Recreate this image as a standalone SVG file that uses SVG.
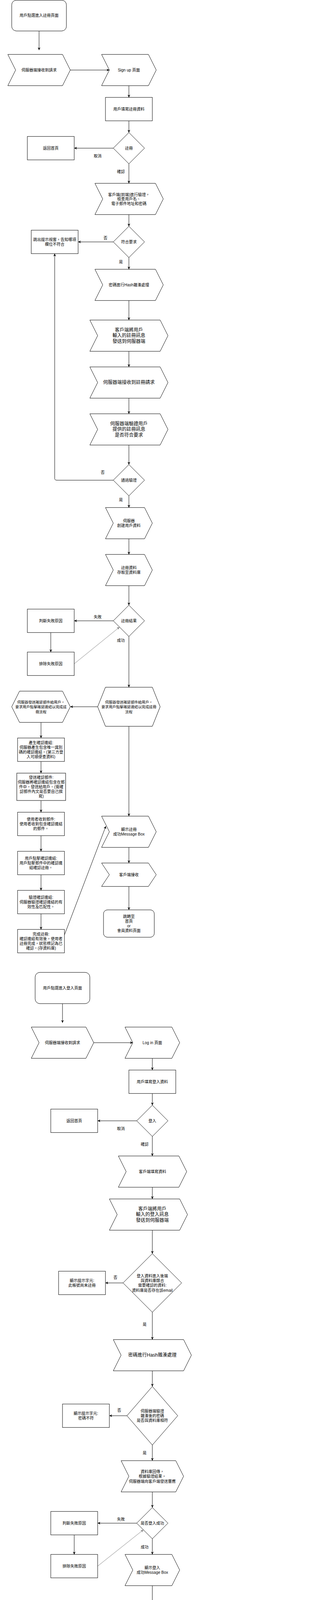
<svg xmlns="http://www.w3.org/2000/svg" width="850" height="4400" viewBox="0 0 850 4400">
<style>
.n{fill:#fff;stroke:#000;stroke-width:1}
.n2{fill:#fff;stroke:#555;stroke-width:1.6}
.t{font-family:"Liberation Sans","Noto Sans CJK TC",sans-serif;font-size:10px;fill:#000;text-anchor:middle;dominant-baseline:central}
.b{font-size:12px}
.s{font-size:9.4px}
.e{fill:none;stroke:#000;stroke-width:1;marker-end:url(#ah)}
.g{fill:none;stroke:#808080;stroke-width:1;marker-end:url(#ahg)}
</style>
<defs>
<marker id="ah" markerUnits="userSpaceOnUse" viewBox="0 0 10 10" refX="10" refY="5" markerWidth="7" markerHeight="7" orient="auto"><path d="M0,0 L10,5 L0,10 L3,5 z" fill="#000"/></marker>
<marker id="ahg" markerUnits="userSpaceOnUse" viewBox="0 0 10 10" refX="10" refY="5" markerWidth="7" markerHeight="7" orient="auto"><path d="M0,0 L10,5 L0,10 L3,5 z" fill="#808080"/></marker>
</defs>
<rect width="850" height="4400" fill="#fff"/>
<g id="connectors">
<path class="e" d="M100,79.3 V128.3"/>
<path class="e" d="M180,179.3 H280"/>
<path class="e" d="M330,219.3 V249.3"/>
<path class="e" d="M330,309.3 V339.3"/>
<path class="e" d="M290,379.3 H190"/>
<path class="e" d="M330,419.3 V469.3"/>
<path class="e" d="M330,549.3 V579.3"/>
<path class="e" d="M290,619.3 H200"/>
<path class="e" d="M330,659.3 V689.3"/>
<path class="e" d="M330,769.3 V819.3"/>
<path class="e" d="M330,899.3 V939.3"/>
<path class="e" d="M330,1019.3 V1059.3"/>
<path class="e" d="M330,1139.3 V1189.3"/>
<path class="e" d="M290,1229.3 H145 Q140,1229.3 140,1224.3 V649.3"/>
<path class="e" d="M330,1269.3 V1299.3"/>
<path class="e" d="M330,1379.3 V1419.3"/>
<path class="e" d="M330,1499.3 V1549.3"/>
<path class="e" d="M290,1589.3 H190"/>
<path class="e" d="M130,1619.3 V1669.3"/>
<path class="g" d="M190,1699.3 L306,1605.3"/>
<path class="e" d="M330,1629.3 V1759.3"/>
<path class="e" d="M250,1809.3 H180"/>
<path class="e" d="M105,1849.3 V1889.3"/>
<path class="e" d="M105,1949.3 V1979.3"/>
<path class="e" d="M105,2049.3 V2079.3"/>
<path class="e" d="M105,2139.3 V2179.3"/>
<path class="e" d="M105,2239.3 V2279.3"/>
<path class="e" d="M105,2339.3 V2379.3"/>
<path class="e" d="M165,2393.3 L271,2115"/>
<path class="e" d="M330,1859.3 V2089.3"/>
<path class="e" d="M330,2169.3 V2209.3"/>
<path class="e" d="M330,2269.3 V2329.3"/>
<path class="e" d="M160,2569.3 V2618.3"/>
<path class="e" d="M240,2669.3 H340"/>
<path class="e" d="M390,2709.3 V2739.3"/>
<path class="e" d="M390,2799.3 V2829.3"/>
<path class="e" d="M350,2869.3 H250"/>
<path class="e" d="M390,2909.3 V2959.3"/>
<path class="e" d="M390,3039.3 V3069.3"/>
<path class="e" d="M390,3149.3 V3209.3"/>
<path class="e" d="M315,3284.3 H270"/>
<path class="e" d="M390,3359.3 V3429.3"/>
<path class="e" d="M390,3509.3 V3549.3"/>
<path class="e" d="M325,3624.3 H280"/>
<path class="e" d="M390,3699.3 V3739.3"/>
<path class="e" d="M390,3819.3 V3859.3"/>
<path class="e" d="M350,3899.3 H250"/>
<path class="e" d="M190,3929.3 V3979.3"/>
<path class="g" d="M250,4009.3 L367,3916.3"/>
<path class="e" d="M390,3939.3 V3979.3"/>
<path class="e" d="M390,4059.3 V4109.3"/>
<path class="e" d="M390,4189.3 V4229.3"/>
<g class="t">
<text x="250" y="399.3">取消</text>
<text x="309.5" y="439.3">確認</text>
<text x="270" y="609.3">否</text>
<text x="309.5" y="670">是</text>
<text x="263" y="1209.3">否</text>
<text x="309.5" y="1279.3">是</text>
<text x="250" y="1579.3">失敗</text>
<text x="309.5" y="1639.3">成功</text>
<text x="309.5" y="2889.3">取消</text>
<text x="370.3" y="2929.3">確認</text>
<text x="295.4" y="3270">否</text>
<text x="370.3" y="3390">是</text>
<text x="305.2" y="3610">否</text>
<text x="370.3" y="3719">是</text>
<text x="309.5" y="3889.3">失敗</text>
<text x="370.3" y="3960">成功</text>
</g>
</g>
<g id="n1"><rect class="n" x="30" y="0.5" width="140" height="78.8" rx="12"/><text class="t" x="100" y="39.7">用戶點選進入註冊頁面</text></g>
<g id="n2"><polygon class="n" points="20,139.3 160,139.3 180,179.3 160,219.3 20,219.3 40,179.3"/><text class="t" x="100" y="179.3">伺服器端接收到請求</text></g>
<g id="n3"><polygon class="n" points="260,139.3 380,139.3 400,179.3 380,219.3 260,219.3 280,179.3"/><text class="t" x="330" y="179.3">Sign up 頁面</text></g>
<g id="n4"><rect class="n" x="270" y="249.3" width="120" height="60"/><text class="t" x="330" y="279.3">用戶填寫註冊資料</text></g>
<g id="n5"><polygon class="n" points="330,339.3 370,379.3 330,419.3 290,379.3"/><text class="t" x="330" y="379.3">註冊</text></g>
<g id="n6"><rect class="n" x="70" y="349.3" width="120" height="60"/><text class="t" x="130" y="379.3">返回首頁</text></g>
<g id="n7"><polygon class="n" points="243,469.3 398,469.3 418,509.3 398,549.3 243,549.3 263,509.3"/><text class="t"><tspan x="330" y="497.6">客戶端(前端)進行驗證，</tspan><tspan x="330" y="509.3">檢查用戶名、</tspan><tspan x="330" y="521">電子郵件地址和密碼</tspan></text></g>
<g id="n8"><polygon class="n" points="330,579.3 370,619.3 330,659.3 290,619.3"/><text class="t" x="330" y="619.3">符合要求</text></g>
<g id="n9"><rect class="n" x="80" y="589.3" width="120" height="60"/><text class="t"><tspan x="140" y="613.3">跳出提示視窗，告知哪項</tspan><tspan x="140" y="625.3">欄位不符合</tspan></text></g>
<g id="n10"><polygon class="n" points="243,689.3 398,689.3 418,729.3 398,769.3 243,769.3 263,729.3"/><text class="t" x="330" y="729.3">密碼進行Hash雜湊處理</text></g>
<g id="n11"><polygon class="n" points="230,819.3 410,819.3 430,859.3 410,899.3 230,899.3 250,859.3"/><text class="t b"><tspan x="330" y="844.9">客戶端將用戶</tspan><tspan x="330" y="859.3">輸入的註冊訊息</tspan><tspan x="330" y="873.7">發送到伺服器端</tspan></text></g>
<g id="n12"><polygon class="n" points="230,939.3 410,939.3 430,979.3 410,1019.3 230,1019.3 250,979.3"/><text class="t b" x="330" y="979.3">伺服器端接收到註冊請求</text></g>
<g id="n13"><polygon class="n" points="230,1059.3 410,1059.3 430,1099.3 410,1139.3 230,1139.3 250,1099.3"/><text class="t b"><tspan x="330" y="1084.9">伺服器端驗證用戶</tspan><tspan x="330" y="1099.3">提供的註冊訊息</tspan><tspan x="330" y="1113.7">是否符合要求</tspan></text></g>
<g id="n14"><polygon class="n" points="330,1189.3 370,1229.3 330,1269.3 290,1229.3"/><text class="t" x="330" y="1229.3">通過驗證</text></g>
<g id="n15"><polygon class="n" points="270,1299.3 370,1299.3 390,1339.3 370,1379.3 270,1379.3 290,1339.3"/><text class="t"><tspan x="330" y="1333.3">伺服器</tspan><tspan x="330" y="1345.3">創建用戶資料</tspan></text></g>
<g id="n16"><polygon class="n" points="270,1419.3 370,1419.3 390,1459.3 370,1499.3 270,1499.3 290,1459.3"/><text class="t"><tspan x="330" y="1453.3">註冊資料</tspan><tspan x="330" y="1465.3">存取至資料庫</tspan></text></g>
<g id="n17"><polygon class="n" points="330,1549.3 370,1589.3 330,1629.3 290,1589.3"/><text class="t" x="330" y="1589.3">註冊結果</text></g>
<g id="n18"><rect class="n" x="70" y="1559.3" width="120" height="60"/><text class="t" x="130" y="1589.3">判斷失敗原因</text></g>
<g id="n19"><rect class="n" x="70" y="1669.3" width="120" height="60"/><text class="t" x="130" y="1699.3">排除失敗原因</text></g>
<g id="n20"><polygon class="n" points="270,1759.3 390,1759.3 410,1809.3 390,1859.3 270,1859.3 250,1809.3"/><text class="t s"><tspan x="330" y="1797.1">伺服器發送確認郵件給用戶，</tspan><tspan x="330" y="1809.3">要求用戶點擊確認連結以完成註冊</tspan><tspan x="330" y="1821.5">流程</tspan></text></g>
<g id="n21"><polygon class="n" points="50,1769.3 160,1769.3 180,1809.3 160,1849.3 50,1849.3 30,1809.3"/><text class="t s"><tspan x="105" y="1797.1">伺服器發送確認郵件給用戶，</tspan><tspan x="105" y="1809.3">要求用戶點擊確認連結以完成註</tspan><tspan x="105" y="1821.5">冊流程</tspan></text></g>
<g id="n22"><rect class="n" x="45" y="1889.3" width="120" height="60"/><text class="t"><tspan x="105" y="1901.3">產生確認連結:</tspan><tspan x="105" y="1913.3">伺服器產生包含唯一識別</tspan><tspan x="105" y="1925.3">碼的確認連結。(第三方登</tspan><tspan x="105" y="1937.3">入可順便查資料)</tspan></text></g>
<g id="n23"><rect class="n2" x="43" y="1979.3" width="125" height="70"/><text class="t"><tspan x="105.5" y="1990.3">發送確認郵件:</tspan><tspan x="105.5" y="2002.3">伺服器將確認連結包含在郵</tspan><tspan x="105.5" y="2014.3">件中，發送給用戶。(需確</tspan><tspan x="105.5" y="2026.3">認郵件內文是否要自己撰</tspan><tspan x="105.5" y="2038.3">寫)</tspan></text></g>
<g id="n24"><rect class="n" x="45" y="2079.3" width="120" height="60"/><text class="t"><tspan x="105" y="2097.3">使用者收到郵件:</tspan><tspan x="105" y="2109.3">使用者收到包含確認連結</tspan><tspan x="105" y="2121.3">的郵件。</tspan></text></g>
<g id="n25"><rect class="n" x="45" y="2179.3" width="120" height="60"/><text class="t"><tspan x="105" y="2197.3">用戶點擊確認連結:</tspan><tspan x="105" y="2209.3">用戶點擊郵件中的確認連</tspan><tspan x="105" y="2221.3">結確認註冊。</tspan></text></g>
<g id="n26"><rect class="n" x="45" y="2279.3" width="120" height="60"/><text class="t"><tspan x="105" y="2297.3">驗證確認連結:</tspan><tspan x="105" y="2309.3">伺服器驗證確認連結的有</tspan><tspan x="105" y="2321.3">效性及匹配性。</tspan></text></g>
<g id="n27"><rect class="n" x="45" y="2379.3" width="120" height="60"/><text class="t"><tspan x="105" y="2391.3">完成註冊:</tspan><tspan x="105" y="2403.3">確認連結有效後，使用者</tspan><tspan x="105" y="2415.3">註冊完成，狀態標記為已</tspan><tspan x="105" y="2427.3">確認。(存資料庫)</tspan></text></g>
<g id="n28"><polygon class="n" points="260,2089.3 380,2089.3 400,2129.3 380,2169.3 260,2169.3 280,2129.3"/><text class="t"><tspan x="330" y="2123.3">顯示註冊</tspan><tspan x="330" y="2135.3">成功Message Box</tspan></text></g>
<g id="n29"><polygon class="n" points="260,2209.3 380,2209.3 400,2239.3 380,2269.3 260,2269.3 280,2239.3"/><text class="t" x="330" y="2239.3">客戶端接收</text></g>
<g id="n30"><rect class="n" x="265" y="2329.3" width="130" height="70" rx="10"/><text class="t"><tspan x="330" y="2346.3">跳轉至</tspan><tspan x="330" y="2358.3">首頁</tspan><tspan x="330" y="2370.3">or</tspan><tspan x="330" y="2382.3">會員資料頁面</tspan></text></g>
<g id="m1"><rect class="n" x="90" y="2489.3" width="140" height="80" rx="12"/><text class="t" x="160" y="2529.3">用戶點選進入登入頁面</text></g>
<g id="m2"><polygon class="n" points="80,2629.3 220,2629.3 240,2669.3 220,2709.3 80,2709.3 100,2669.3"/><text class="t" x="160" y="2669.3">伺服器端接收到請求</text></g>
<g id="m3"><polygon class="n" points="320,2629.3 440,2629.3 460,2669.3 440,2709.3 320,2709.3 340,2669.3"/><text class="t" x="390" y="2669.3">Log in 頁面</text></g>
<g id="m4"><rect class="n" x="330" y="2739.3" width="120" height="60"/><text class="t" x="390" y="2769.3">用戶填寫登入資料</text></g>
<g id="m5"><polygon class="n" points="390,2829.3 430,2869.3 390,2909.3 350,2869.3"/><text class="t" x="390" y="2869.3">登入</text></g>
<g id="m6"><rect class="n" x="130" y="2839.3" width="120" height="60"/><text class="t" x="190" y="2869.3">返回首頁</text></g>
<g id="m7"><polygon class="n" points="303,2959.3 458,2959.3 478,2999.3 458,3039.3 303,3039.3 323,2999.3"/><text class="t" x="390.5" y="2999.3">客戶端填寫資料</text></g>
<g id="m8"><polygon class="n" points="280,3069.3 460,3069.3 480,3109.3 460,3149.3 280,3149.3 300,3109.3"/><text class="t b"><tspan x="390" y="3094.9">客戶端將用戶</tspan><tspan x="390" y="3109.3">輸入的登入訊息</tspan><tspan x="390" y="3123.7">發送到伺服器端</tspan></text></g>
<g id="m9"><polygon class="n" points="390,3209.3 465,3284.3 390,3359.3 315,3284.3"/><text class="t"><tspan x="390" y="3266">登入資料進入後端</tspan><tspan x="390" y="3278.2">與資料庫媒合</tspan><tspan x="390" y="3290.4">需要確認的資料:</tspan><tspan x="390" y="3302.6">資料庫是否存在該email</tspan></text></g>
<g id="m10"><rect class="n" x="150" y="3254.3" width="120" height="60"/><text class="t"><tspan x="210" y="3278.3">顯示提示字元:</tspan><tspan x="210" y="3290.3">此帳號尚未註冊</tspan></text></g>
<g id="m11"><polygon class="n" points="290,3429.3 470,3429.3 490,3469.3 470,3509.3 290,3509.3 310,3469.3"/><text class="t b" x="390" y="3469.3">密碼進行Hash雜湊處理</text></g>
<g id="m12"><polygon class="n" points="390,3549.3 455,3624.3 390,3699.3 325,3624.3"/><text class="t"><tspan x="390" y="3612.3">伺服器端驗證</tspan><tspan x="390" y="3624.3">雜湊後的密碼</tspan><tspan x="390" y="3636.3">是否與資料庫相符</tspan></text></g>
<g id="m13"><rect class="n" x="160" y="3594.3" width="120" height="60"/><text class="t"><tspan x="220" y="3618.3">顯示提示字元:</tspan><tspan x="220" y="3630.3">密碼不符</tspan></text></g>
<g id="m14"><polygon class="n" points="310,3739.3 450,3739.3 470,3779.3 450,3819.3 310,3819.3 330,3779.3"/><text class="t"><tspan x="390" y="3767">資料庫回傳，</tspan><tspan x="390" y="3779.3">根據驗證結果，</tspan><tspan x="390" y="3791.6">伺服器端向客戶端發送響應</tspan></text></g>
<g id="m15"><polygon class="n" points="390,3859.3 430,3899.3 390,3939.3 350,3899.3"/><text class="t" x="390" y="3899.3">是否登入成功</text></g>
<g id="m16"><rect class="n" x="130" y="3869.3" width="120" height="60"/><text class="t" x="190" y="3899.3">判斷失敗原因</text></g>
<g id="m17"><rect class="n" x="130" y="3979.3" width="120" height="60"/><text class="t" x="190" y="4009.3">排除失敗原因</text></g>
<g id="m18"><polygon class="n" points="320,3979.3 440,3979.3 460,4019.3 440,4059.3 320,4059.3 340,4019.3"/><text class="t"><tspan x="390" y="4013.3">顯示登入</tspan><tspan x="390" y="4025.3">成功Message Box</tspan></text></g>
<g id="m19"><polygon class="n" points="320,4109.3 440,4109.3 460,4149.3 440,4189.3 320,4189.3 340,4149.3"/><text class="t"><tspan x="390" y="4137">客戶端接收，</tspan><tspan x="390" y="4149.3">保持登入狀態</tspan><tspan x="390" y="4161.6">(存進Local Storage)</tspan></text></g>
<g id="m20"><rect class="n" x="325" y="4229.3" width="130" height="70" rx="10"/><text class="t"><tspan x="390" y="4258.3">跳轉至</tspan><tspan x="390" y="4270.3">首頁</tspan></text></g>
</svg>
